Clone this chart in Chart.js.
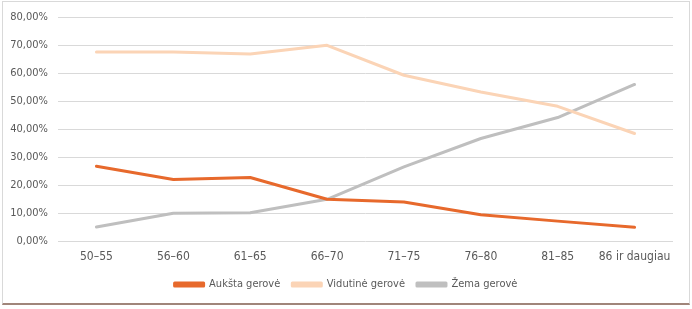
<!DOCTYPE html>
<html>
<head>
<meta charset="utf-8">
<script src="https://cdn.jsdelivr.net/npm/chart.js@4"></script>
<style>
  body { margin: 0; background: #fff; }
  #wrap { position: relative; width: 692px; height: 309px; }
  #frame {
    position: absolute; left: 2px; top: 1px; width: 686px; height: 301px;
    border: 1px solid #d9d9d9; border-bottom: 2px solid #a0857a;
    box-sizing: content-box; pointer-events: none;
  }
</style>
</head>
<body>
<div id="wrap">
  <canvas id="chart" width="692" height="309"></canvas>
  <div id="frame"></div>
</div>
<script>
// age groups and shares (in %)
const ageGroups = ["50–55", "56–60", "61–65", "66–70", "71–75", "76–80", "81–85", "86 ir daugiau"];
const highWelfare = [26.7, 22.0, 22.7, 14.9, 13.9, 9.4, 7.1, 4.9];
const midWelfare = [67.5, 67.5, 66.8, 69.9, 59.2, 53.2, 48.1, 38.4];
const lowWelfare = [5.0, 9.9, 10.1, 14.9, 26.5, 36.6, 44.1, 55.9];
const yTicks = [0, 10, 20, 30, 40, 50, 60, 70, 80];

const fontFamily = "'Liberation Sans Narrow', 'Arial Narrow', 'DejaVu Sans Condensed', sans-serif";
const textColor = "#595959";

const ctx = document.getElementById("chart").getContext("2d");

const makeSet = (label, data, color) => ({
  label,
  data,
  borderColor: color,
  backgroundColor: color,
  borderWidth: 3,
  tension: 0,
  pointRadius: 0,
  pointHoverRadius: 0,
  borderCapStyle: "round",
  borderJoinStyle: "round"
});

new Chart(ctx, {
  type: "line",
  data: {
    labels: ageGroups,
    datasets: [
      makeSet("Aukšta gerovė", highWelfare, "#e7692c"),
      makeSet("Vidutinė gerovė", midWelfare, "#fbd4b6"),
      makeSet("Žema gerovė", lowWelfare, "#bfbfbf")
    ]
  },
  options: {
    responsive: false,
    animation: false,
    layout: { padding: { left: 0, right: 0, top: 17, bottom: 9 } },
    plugins: {
      tooltip: { enabled: false },
      legend: {
        position: "bottom",
        labels: {
          boxWidth: 29,
          boxHeight: 3,
          padding: 12,
          color: textColor,
          font: { family: fontFamily, size: 11 }
        }
      }
    },
    scales: {
      x: {
        offset: true,
        grid: { display: false, drawTicks: false },
        border: { display: false },
        afterFit: scale => { scale.height = 26; },
        ticks: {
          color: textColor,
          font: { family: fontFamily, size: 12 },
          maxRotation: 0,
          autoSkip: false,
          padding: 9
        }
      },
      y: {
        min: 0,
        max: 80,
        afterBuildTicks: scale => { scale.ticks = yTicks.map(v => ({ value: v })); },
        afterFit: scale => { scale.width = 58; },
        grid: { color: "#d9d9d9", lineWidth: 1, drawTicks: false },
        border: { display: false },
        ticks: {
          color: textColor,
          font: { family: fontFamily, size: 11 },
          padding: 10,
          callback: v => v.toFixed(2).replace(".", ",") + "%"
        }
      },
      // empty right axis, only keeps a gap on the right of the plot
      yRight: {
        position: "right",
        min: 0,
        max: 80,
        grid: { display: false, drawTicks: false },
        border: { display: false },
        ticks: { display: false },
        afterFit: scale => { scale.width = 19; }
      }
    }
  }
});
</script>
</body>
</html>
